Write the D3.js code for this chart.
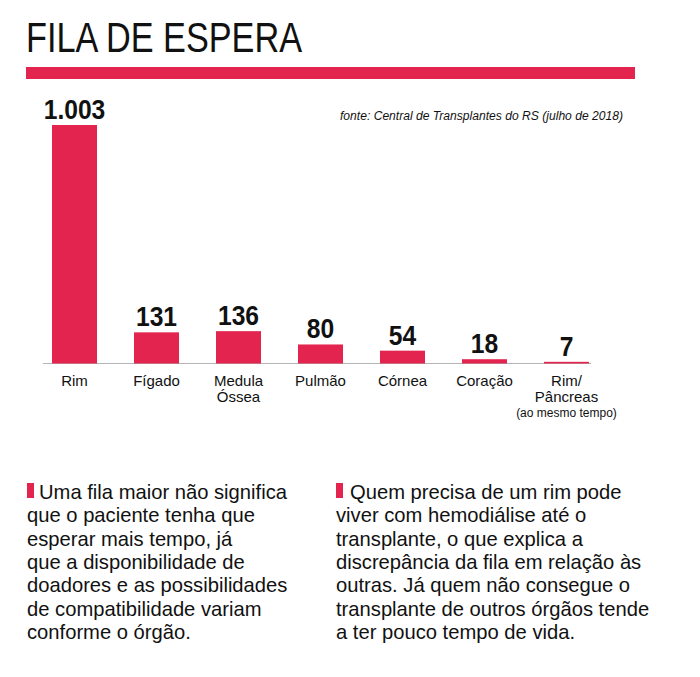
<!DOCTYPE html>
<html>
<head>
<meta charset="utf-8">
<script src="https://cdn.jsdelivr.net/npm/d3@7"></script>
<style>
  html, body { margin: 0; padding: 0; background: #fff; }
  svg { display: block; }
</style>
</head>
<body>
<svg id="chart" width="700" height="677"></svg>
<script>
const categories = ["Rim", "Fígado", "Medula Óssea", "Pulmão", "Córnea", "Coração", "Rim/Pâncreas"];
const categoryLines = [["Rim"], ["Fígado"], ["Medula", "Óssea"], ["Pulmão"], ["Córnea"], ["Coração"], ["Rim/", "Pâncreas"]];
const values = [1003, 131, 136, 80, 54, 18, 7];
const valueLabels = ["1.003", "131", "136", "80", "54", "18", "7"];
const title = "FILA DE ESPERA";
const source = "fonte: Central de Transplantes do RS (julho de 2018)";
const note = "(ao mesmo tempo)";
const paraLeft = ["Uma fila maior não significa", "que o paciente tenha que", "esperar mais tempo, já", "que a disponibilidade de", "doadores e as possibilidades", "de compatibilidade variam", "conforme o órgão."];
const paraRight = ["Quem precisa de um rim pode", "viver com hemodiálise até o", "transplante, o que explica a", "discrepância da fila em relação às", "outras. Já quem não consegue o", "transplante de outros órgãos tende", "a ter pouco tempo de vida."];

const RED = "#e2244f";
const svg = d3.select("#chart");
const font = "'Liberation Sans', Arial, Helvetica, sans-serif";

// Title
svg.append("text")
  .attr("x", 26).attr("y", 52)
  .attr("font-family", font)
  .attr("font-size", 43)
  .attr("textLength", 276)
  .attr("lengthAdjust", "spacingAndGlyphs")
  .attr("fill", "#111")
  .text(title);

svg.append("rect")
  .attr("x", 26).attr("y", 67).attr("width", 609).attr("height", 12)
  .attr("fill", RED);

// Source
svg.append("text")
  .attr("x", 340).attr("y", 120)
  .attr("font-family", font)
  .attr("font-style", "italic")
  .attr("font-size", 12)
  .attr("textLength", 283)
  .attr("lengthAdjust", "spacingAndGlyphs")
  .attr("fill", "#111")
  .text(source);

// Scales
const x = d3.scaleBand()
  .domain(categories)
  .range([52, 589])
  .paddingInner(0.451)
  .paddingOuter(0);

const y = d3.scaleLinear()
  .domain([0, 1003])
  .range([363.5, 125]);

// Axis baseline
svg.append("line")
  .attr("x1", x.range()[0] - 9).attr("x2", x.range()[1] + 2)
  .attr("y1", y(0)).attr("y2", y(0))
  .attr("stroke", "#b5b5b5").attr("stroke-width", 1);

// Bars
svg.append("g").selectAll("rect")
  .data(values)
  .join("rect")
  .attr("x", (d, i) => x(categories[i]))
  .attr("width", x.bandwidth())
  .attr("y", d => y(d))
  .attr("height", d => y(0) - y(d))
  .attr("fill", RED);

// Value labels (condensed bold)
svg.append("g").selectAll("text")
  .data(values)
  .join("text")
  .attr("transform", (d, i) => `translate(${x(categories[i]) + x.bandwidth() / 2},${y(d) - 6}) scale(0.88,1)`)
  .attr("text-anchor", "middle")
  .attr("font-family", font)
  .attr("font-weight", "bold")
  .attr("font-size", 28)
  .attr("fill", "#111")
  .text((d, i) => valueLabels[i]);

// Category labels
const catG = svg.append("g");
categoryLines.forEach((lines, i) => {
  const cx = x(categories[i]) + x.bandwidth() / 2;
  const t = catG.append("text")
    .attr("x", cx).attr("y", 386)
    .attr("text-anchor", "middle")
    .attr("font-family", font)
    .attr("font-size", 15)
    .attr("fill", "#111");
  lines.forEach((l, j) => {
    t.append("tspan").attr("x", cx).attr("dy", j === 0 ? 0 : 16).text(l);
  });
  if (i === categories.length - 1) {
    catG.append("text")
      .attr("x", cx).attr("y", 417)
      .attr("text-anchor", "middle")
      .attr("font-family", font)
      .attr("font-size", 12)
      .attr("fill", "#111")
      .text(note);
  }
});

// Paragraphs
function para(lines, x0, markerX, markerW, firstX) {
  const g = svg.append("g");
  g.append("rect")
    .attr("x", markerX).attr("y", 483).attr("width", markerW).attr("height", 15)
    .attr("fill", RED);
  lines.forEach((l, i) => {
    g.append("text")
      .attr("x", i === 0 ? firstX : x0)
      .attr("y", 499 + i * 23.3)
      .attr("font-family", font)
      .attr("font-size", 20.2)
      .attr("fill", "#111")
      .text(l);
  });
}
para(paraLeft, 27, 27, 7, 39);
para(paraRight, 336, 336, 7, 350);
</script>
</body>
</html>
